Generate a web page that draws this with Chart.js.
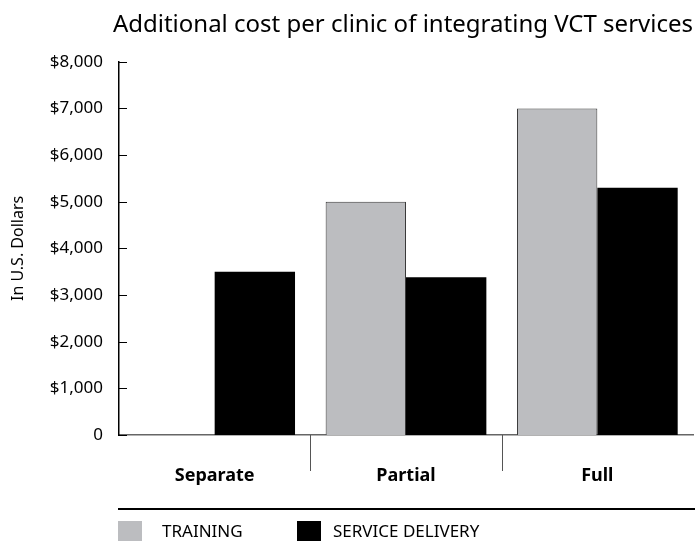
<!DOCTYPE html>
<html>
<head>
<meta charset="utf-8">
<script src="https://cdn.jsdelivr.net/npm/chart.js@4.4.0/dist/chart.umd.min.js"></script>
<style>
  body { margin: 0; background: #fff; }
  #chart { display: block; }
</style>
</head>
<body>
<canvas id="chart" width="695" height="541"></canvas>
<script>
// chart data
const categories = ['Separate', 'Partial', 'Full'];
const training = [0, 5000, 7000];
const serviceDelivery = [3500, 3380, 5300];
const yTicks = [0, 1000, 2000, 3000, 4000, 5000, 6000, 7000, 8000];

const FONT = "'Noto Sans', 'Open Sans', sans-serif";

// draws the inward y ticks, category separators, rule and legend
const extras = {
    id: 'extras',
    afterDraw(chart) {
        const ctx = chart.ctx;
        const area = chart.chartArea;
        const x = chart.scales.x;
        const y = chart.scales.y;
        ctx.save();

        // short ticks pointing into the plot
        ctx.strokeStyle = '#000';
        ctx.lineWidth = 1;
        yTicks.forEach(v => {
            const py = Math.round(y.getPixelForValue(v)) + 0.5;
            ctx.beginPath();
            ctx.moveTo(area.left, py);
            ctx.lineTo(area.left + 8, py);
            ctx.stroke();
        });

        // separators between categories
        ctx.strokeStyle = '#555';
        for (let i = 0; i < categories.length - 1; i++) {
            const px = Math.round((x.getPixelForTick(i) + x.getPixelForTick(i + 1)) / 2) + 0.5;
            ctx.beginPath();
            ctx.moveTo(px, area.bottom);
            ctx.lineTo(px, area.bottom + 36);
            ctx.stroke();
        }

        // rule above the legend
        ctx.strokeStyle = '#000';
        ctx.lineWidth = 2;
        ctx.beginPath();
        ctx.moveTo(area.left - 1, area.bottom + 74);
        ctx.lineTo(chart.width, area.bottom + 74);
        ctx.stroke();

        // legend
        const boxX = [area.left - 1, area.left + 178];
        const textX = [area.left + 43, area.left + 214];
        ctx.font = '17px ' + FONT;
        ctx.textBaseline = 'middle';
        chart.data.datasets.forEach((ds, i) => {
            ctx.fillStyle = ds.backgroundColor;
            ctx.fillRect(boxX[i], area.bottom + 86, 24, 20);
            ctx.fillStyle = '#000';
            ctx.fillText(ds.label, textX[i], area.bottom + 97);
        });
        ctx.restore();
    }
};

const chartCtx = document.getElementById('chart').getContext('2d');
const costChart = new Chart(chartCtx, {
    type: 'bar',
    data: {
        labels: categories,
        datasets: [{
            label: 'TRAINING',
            data: training,
            backgroundColor: '#bcbdc0',
            borderColor: '#3a3a3a',
            borderWidth: c => c.raw ? 1 : 0
        }, {
            label: 'SERVICE DELIVERY',
            data: serviceDelivery,
            backgroundColor: '#000000',
            borderWidth: 0
        }]
    },
    options: {
        responsive: false,
        devicePixelRatio: 1,
        animation: false,
        layout: { padding: { top: 0, right: 2, bottom: 0, left: 0 } },
        datasets: {
            bar: { barPercentage: 1, categoryPercentage: 0.84 }
        },
        plugins: {
            legend: { display: false },
            tooltip: { enabled: false },
            title: {
                display: true,
                text: 'Additional cost per clinic of integrating VCT services',
                align: 'end',
                color: '#000',
                font: { family: FONT, size: 24, weight: 'normal' },
                padding: { top: 11, bottom: 22 }
            }
        },
        scales: {
            x: {
                grid: { display: false },
                border: { display: true, color: '#666', width: 1.5 },
                ticks: {
                    color: '#000',
                    padding: 22,
                    font: { family: FONT, size: 18, weight: 'bold' }
                },
                afterFit(scale) { scale.height = 106; }
            },
            y: {
                min: 0,
                max: 8000,
                grid: { display: false },
                border: { display: true, color: '#000', width: 1.5 },
                ticks: {
                    stepSize: 1000,
                    padding: 8,
                    color: '#000',
                    font: { family: FONT, size: 17 },
                    callback: v => v === 0 ? '0' : '$' + v.toLocaleString('en-US')
                },
                title: {
                    display: true,
                    text: 'In U.S. Dollars',
                    color: '#000',
                    font: { family: FONT, size: 16 },
                    padding: { top: 9, bottom: 0 }
                },
                afterFit(scale) { scale.width = 119; }
            }
        }
    },
    plugins: [extras]
});
</script>
</body>
</html>
